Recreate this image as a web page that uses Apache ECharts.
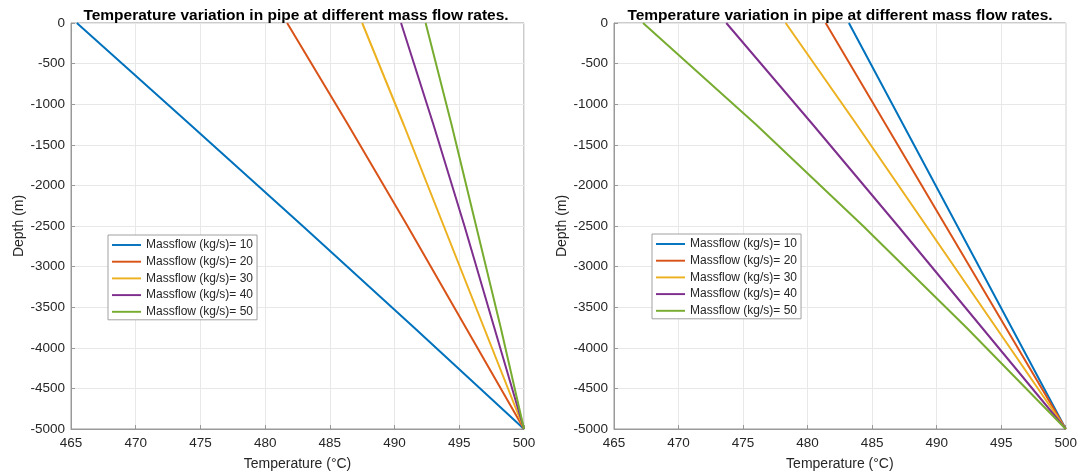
<!DOCTYPE html>
<html><head><meta charset="utf-8">
<script src="https://cdn.jsdelivr.net/npm/echarts@6/dist/echarts.min.js"></script>
<style>html,body{margin:0;padding:0;background:#fff}#c{width:1080px;height:476px}</style>
</head><body><div id="c"></div>
<script>
const titleText = 'Temperature variation in pipe at different mass flow rates.';
const seriesNames = ['Massflow (kg/s)= 10','Massflow (kg/s)= 20','Massflow (kg/s)= 30','Massflow (kg/s)= 40','Massflow (kg/s)= 50'];
const colors = ['#0072BD','#D95319','#EDB120','#7E2F8E','#77AC30'];
const depth = [0, -1250, -2500, -3750, -5000];
// left plot temperatures at each depth
const left10 = [465.45, 474.2, 482.9, 491.5, 500];
const left20 = [481.7, 486.4, 491.0, 495.5, 500];
const left30 = [487.5, 490.7, 493.8, 496.9, 500];
const left40 = [490.5, 493.0, 495.4, 497.7, 500];
const left50 = [492.4, 494.4, 496.3, 498.2, 500];
// right plot temperatures at each depth
const right10 = [483.2, 487.4, 491.6, 495.8, 500];
const right20 = [481.4, 486.05, 490.7, 495.35, 500];
const right30 = [478.3, 483.8, 489.2, 494.6, 500];
const right40 = [473.7, 480.4, 487.0, 493.5, 500];
const right50 = [467.25, 476.0, 484.3, 492.3, 500];
const xTicks = {min: 465, max: 500, interval: 5};
const yTicks = {min: -5000, max: 0, interval: 500};

const leftSets = [left10, left20, left30, left40, left50];
const rightSets = [right10, right20, right30, right40, right50];

const FONT = '"Liberation Sans", Arial, sans-serif';
const axisCol = '#999999';
const textCol = '#262626';

function xAxis(gi){
  return {type:'value', gridIndex:gi, min:xTicks.min, max:xTicks.max, interval:xTicks.interval,
    name:'Temperature (°C)', nameLocation:'middle', nameGap:28,
    nameTextStyle:{fontFamily:FONT, fontSize:14, color:textCol},
    axisLine:{show:true, onZero:false, lineStyle:{color:axisCol, width:1}},
    axisTick:{show:true, inside:true, length:4, lineStyle:{color:axisCol}},
    axisLabel:{fontFamily:FONT, fontSize:13.5, color:textCol, margin:7, formatter:v => String(v)},
    splitLine:{show:true, lineStyle:{color:'#e8e8e8', width:1}}};
}
function yAxis(gi){
  return {type:'value', gridIndex:gi, min:yTicks.min, max:yTicks.max, interval:yTicks.interval,
    name:'Depth (m)', nameLocation:'middle', nameGap:45,
    nameTextStyle:{fontFamily:FONT, fontSize:14, color:textCol},
    axisLine:{show:true, onZero:false, lineStyle:{color:axisCol, width:1}},
    axisTick:{show:true, inside:true, length:4, lineStyle:{color:axisCol}},
    axisLabel:{fontFamily:FONT, fontSize:13.5, color:textCol, margin:6, formatter:v => String(v)},
    splitLine:{show:true, lineStyle:{color:'#e8e8e8', width:1}}};
}
function legend(left, top){
  return {left:left, top:top, orient:'vertical', data:seriesNames, selectedMode:false,
    icon:'path://M0,0 H30 V2 H0 Z', itemWidth:29, itemHeight:2, itemGap:2.7,
    padding:[3,4,1,4], borderColor:'#a0a0a0', borderWidth:1, backgroundColor:'#fff',
    textStyle:{fontFamily:FONT, fontSize:12, color:textCol, lineHeight:14}};
}
const series = [];
[leftSets, rightSets].forEach((sets, gi) => {
  sets.forEach((vals, i) => {
    series.push({type:'line', name:seriesNames[i], xAxisIndex:gi, yAxisIndex:gi,
      data: vals.map((t, k) => [t, depth[k]]), symbol:'none', smooth:false,
      lineStyle:{color:colors[i], width:2}, itemStyle:{color:colors[i]}, animation:false});
  });
});

const chart = echarts.init(document.getElementById('c'), null, {renderer:'canvas'});
chart.setOption({
  animation:false,
  color: colors,
  title:[
    {text:titleText, left:296, top:8, padding:0, textAlign:'center', textStyle:{fontFamily:FONT, fontSize:15.5, fontWeight:'bold', color:'#000'}},
    {text:titleText, left:840, top:8, padding:0, textAlign:'center', textStyle:{fontFamily:FONT, fontSize:15.5, fontWeight:'bold', color:'#000'}}
  ],
  grid:[
    {left:71, top:23, width:453, height:407, show:true, borderColor:axisCol, borderWidth:1, containLabel:false},
    {left:614, top:23, width:454, height:407, show:true, borderColor:axisCol, borderWidth:1, containLabel:false}
  ],
  xAxis:[xAxis(0), xAxis(1)],
  yAxis:[yAxis(0), yAxis(1)],
  legend:[legend(108, 235), legend(652, 234)],
  series: series
});
</script></body></html>
